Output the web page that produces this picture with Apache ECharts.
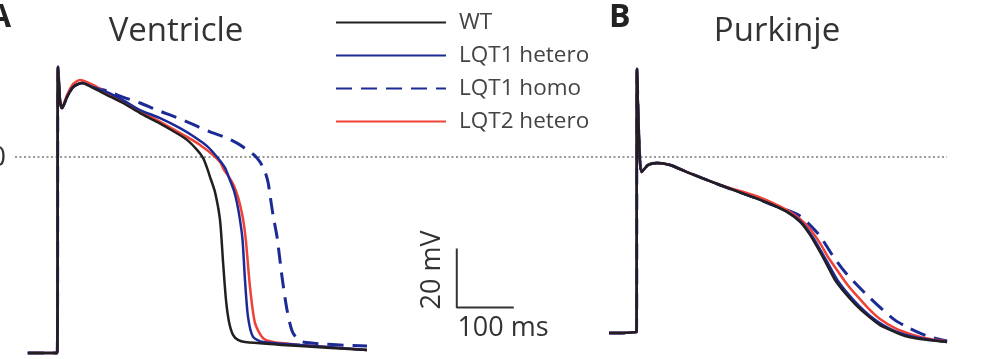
<!DOCTYPE html>
<html>
<head>
<meta charset="utf-8">
<script src="https://cdn.jsdelivr.net/npm/echarts@6/dist/echarts.min.js"></script>
<style>
html,body{margin:0;padding:0;background:#fff;}
#chart{width:997px;height:359px;}
</style>
</head>
<body>
<div id="chart"></div>
<script>
var seriesNames = ['WT', 'LQT1 hetero', 'LQT1 homo', 'LQT2 hetero'];

// ventricle traces, [time ms, voltage mV]
var ventWT = [[-53,-66.4],[-1.5,-66.4],[0,30.5],[3.5,19.3],[7,16.6],[15.8,20.3],[26.3,23.7],[42.1,25.1],[61.4,23.4],[86,21],[114,18.3],[143.9,14.9],[173.7,11.9],[201.8,8.8],[226.3,5.8],[243.9,2.4],[254.4,-0.3],[261.4,-3.7],[266.7,-6.8],[275.4,-11.9],[284.2,-21.4],[289.5,-35.6],[294.7,-48.5],[300,-55.9],[307,-60.3],[315.8,-62],[328,-62.7],[424.6,-64.1],[542,-65.4]];
var ventLQT1het = [[-53,-66.4],[-1.5,-66.4],[0,30.5],[3.5,19.3],[7,16.6],[15.8,20.3],[26.3,23.7],[42.1,25.1],[61.4,23.7],[86,22],[114,19.3],[143.9,15.9],[178.9,13.2],[214,9.8],[236.8,7.1],[261.4,3.7],[279,0],[293,-3.7],[300.9,-7.5],[308.8,-11.5],[314,-15.6],[319.3,-21.4],[323.7,-28.1],[328,-41.7],[333.3,-54.2],[342.1,-61],[359.6,-62.7],[424.6,-63.7],[542,-65.4]];
var ventLQT1hom = [[-53,-66.4],[-1.5,-66.4],[0,30.5],[3.5,19.3],[7,16.6],[15.8,20.3],[26.3,23.7],[42.1,25.1],[61.4,23.7],[86,22.4],[114,20.3],[143.9,18.3],[173.7,15.9],[205.3,13.6],[231.6,11.5],[266.7,8.5],[296.5,6.4],[319.3,4.1],[331.6,2.4],[343.9,0.7],[354.4,-1.7],[363.2,-5.1],[368.4,-8.5],[371.9,-12.9],[377.2,-19.7],[384.2,-27.1],[393,-40.7],[401.8,-51.9],[412.3,-59.7],[429.8,-62.7],[542,-64.1]];
var ventLQT2het = [[-53,-66.4],[-1.5,-66.4],[0,30.5],[3.5,19.3],[7,16.6],[15.8,21],[26.3,24.7],[38.6,26.1],[50.9,25.4],[64.9,24.1],[86,21.7],[114,18.6],[143.9,15.6],[173.7,12.5],[201.8,9.5],[226.3,6.8],[249.1,4.1],[271.9,0.7],[284.2,-1.7],[291.2,-4.4],[300,-6.8],[308.8,-9.8],[315.8,-13.6],[321,-17.6],[325.4,-22],[329.8,-28.8],[336.8,-44.1],[345.6,-56.3],[359.6,-61.4],[377.2,-62.7],[424.6,-63.7],[542,-65.4]];

// purkinje traces
var purkWT = [[-49,-59.7],[-0.9,-59.3],[0,29.8],[3.5,5.8],[8.2,-5.1],[19.3,-2.7],[35.1,-2],[57.9,-2.7],[87.7,-5.1],[145.6,-9.5],[203.5,-13.6],[238.6,-16.3],[263.2,-18.6],[286,-22],[303.5,-26.4],[321,-32.2],[333.3,-36.6],[347.4,-41.7],[364.9,-46.1],[384.2,-50.2],[403.5,-53.6],[426.3,-57],[443.9,-58.6],[470.2,-60.7],[496.5,-61.7],[543.9,-62.7]];
var purkLQT1het = [[-49,-59.7],[-0.9,-59.3],[0,29.8],[3.5,5.8],[8.2,-5.1],[19.3,-2.7],[35.1,-2],[57.9,-2.7],[87.7,-5.1],[145.6,-9.5],[203.5,-13.6],[238.6,-16.3],[263.2,-18.6],[286,-21.7],[307,-26.8],[324.6,-32.5],[338.6,-37.3],[352.6,-42],[370.2,-46.4],[389.5,-50.5],[408.8,-53.9],[431.6,-57],[452.6,-59],[478.9,-60.7],[505.3,-61.7],[543.9,-62.7]];
var purkLQT1hom = [[-49,-59.7],[-0.9,-59.3],[0,29.8],[3.5,5.8],[8.2,-5.1],[19.3,-2.7],[35.1,-2],[57.9,-2.7],[87.7,-5.1],[145.6,-9.5],[203.5,-13.6],[238.6,-16.3],[263.2,-18],[286,-20],[303.5,-23.1],[321,-26.8],[343.9,-33.6],[364.9,-39],[386,-43.4],[408.8,-47.8],[431.6,-51.9],[452.6,-55.3],[470.2,-57.3],[491.2,-59.3],[514,-61],[543.9,-62.4]];
var purkLQT2het = [[-49,-59.7],[-0.9,-59.3],[0,29.8],[3.5,5.8],[8.2,-5.1],[19.3,-2.7],[35.1,-2],[57.9,-2.7],[87.7,-5.1],[145.6,-9.5],[203.5,-12.9],[238.6,-15.6],[263.2,-18],[286,-21],[303.5,-24.4],[321,-29.2],[335,-33.9],[350.9,-38.3],[368.4,-43.1],[386,-47.1],[405.3,-51.2],[426.3,-54.9],[452.6,-58],[484.2,-60.3],[514,-61.7],[540.4,-62.4]];

// reference line at 0 mV and scale bar (overlay axis, ms / mV)
var zeroLine = [[0,0],[1635,0]];
var scaleBar = [[775,-31],[775,-51],[875,-51]];

var FONT = '"Open Sans", sans-serif';
var colWT = '#231f20', colBlue = '#1b2a95', colRed = '#ef4136';

function trace(name, data, idx, color, width, type) {
  return {
    name: name, type: 'line', data: data,
    xAxisIndex: idx, yAxisIndex: idx,
    symbol: 'none', smooth: 0.25,
    lineStyle: { color: color, width: width, type: type || 'solid' },
    itemStyle: { color: color },
    silent: true
  };
}

var chart = echarts.init(document.getElementById('chart'), null, { renderer: 'canvas' });

var option = {
  animation: false,
  grid: [
    { left: 27.8, top: 56.7, width: 340.9, height: 300.9 },
    { left: 606.8, top: 56.7, width: 340.9, height: 300.9 },
    { left: 15, top: 56.7, width: 932, height: 300.9 }
  ],
  xAxis: [
    { type: 'value', gridIndex: 0, min: -53, max: 545, show: false },
    { type: 'value', gridIndex: 1, min: -53, max: 545, show: false },
    { type: 'value', gridIndex: 2, min: 0, max: 1635, show: false }
  ],
  yAxis: [
    { type: 'value', gridIndex: 0, min: -68, max: 34, show: false },
    { type: 'value', gridIndex: 1, min: -68, max: 34, show: false },
    { type: 'value', gridIndex: 2, min: -68, max: 34, show: false }
  ],
  legend: {
    orient: 'vertical', left: 335, top: 11, padding: 0,
    itemWidth: 110, itemHeight: 4, itemGap: 10,
    itemStyle: { opacity: 0 },
    data: seriesNames,
    textStyle: { fontFamily: FONT, fontSize: 22.5, lineHeight: 22, color: '#444', padding: [0, 0, 0, 8] }
  },
  graphic: [
    { type: 'text', x: 11, y: 18, style: { text: 'A', font: 'bold 32px ' + FONT, fill: '#222', align: 'right', verticalAlign: 'middle' } },
    { type: 'text', x: 609, y: 18, style: { text: 'B', font: 'bold 32px ' + FONT, fill: '#222', align: 'left', verticalAlign: 'middle' } },
    { type: 'text', x: 176, y: 32, style: { text: 'Ventricle', font: '33px ' + FONT, fill: '#333', align: 'center', verticalAlign: 'middle' } },
    { type: 'text', x: 777, y: 32, style: { text: 'Purkinje', font: '33px ' + FONT, fill: '#333', align: 'center', verticalAlign: 'middle' } },
    { type: 'text', x: 6, y: 158, style: { text: '0', font: '28px ' + FONT, fill: '#333', align: 'right', verticalAlign: 'middle' } },
    { type: 'text', x: 432, y: 270, rotation: Math.PI / 2, style: { text: '20 mV', font: '27px ' + FONT, fill: '#333', align: 'center', verticalAlign: 'middle' } },
    { type: 'text', x: 503, y: 328, style: { text: '100 ms', font: '27px ' + FONT, fill: '#333', align: 'center', verticalAlign: 'middle' } }
  ],
  series: [
    { type: 'line', data: zeroLine, xAxisIndex: 2, yAxisIndex: 2, symbol: 'none', silent: true,
      lineStyle: { color: '#9a9a9a', width: 2, type: [2, 2.5] } },
    { type: 'line', data: scaleBar, xAxisIndex: 2, yAxisIndex: 2, symbol: 'none', silent: true,
      lineStyle: { color: '#333', width: 2 } },

    trace('LQT1 homo', ventLQT1hom, 0, colBlue, 3, [16, 9]),
    trace('LQT2 hetero', ventLQT2het, 0, colRed, 2.5),
    trace('LQT1 hetero', ventLQT1het, 0, colBlue, 2.5),
    trace('WT', ventWT, 0, colWT, 2.5),

    trace('LQT1 homo', purkLQT1hom, 1, colBlue, 3, [16, 9]),
    trace('LQT2 hetero', purkLQT2het, 1, colRed, 2.5),
    trace('LQT1 hetero', purkLQT1het, 1, colBlue, 2.5),
    trace('WT', purkWT, 1, colWT, 2.5)
  ]
};

chart.setOption(option);
</script>
</body>
</html>
